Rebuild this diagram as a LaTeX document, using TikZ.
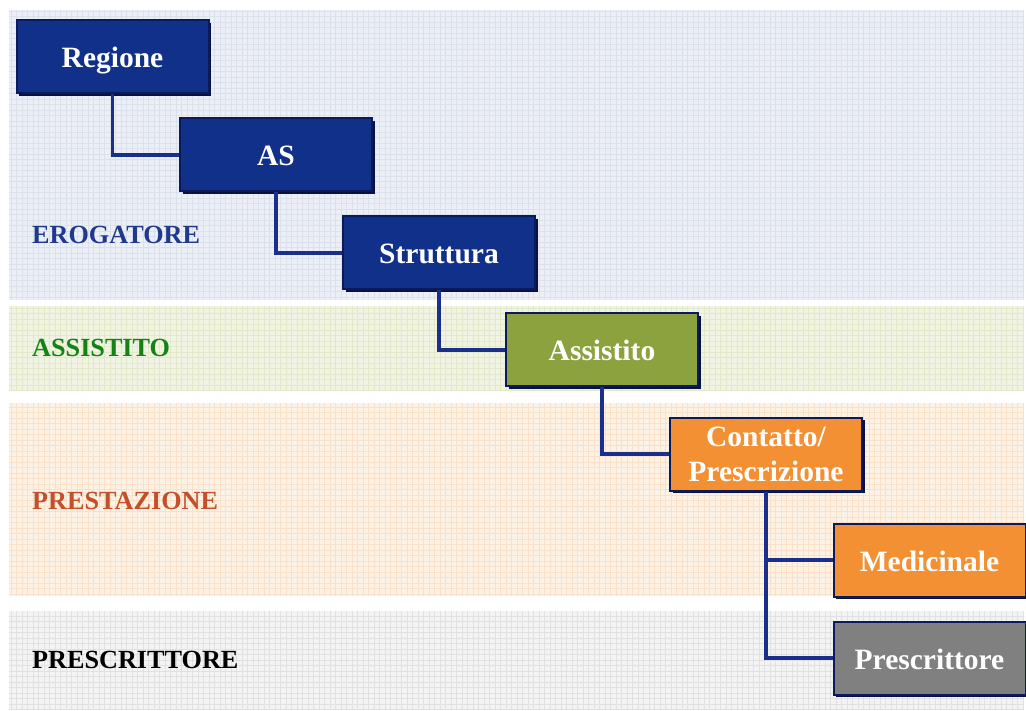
\documentclass[tikz,border=0pt]{standalone}
\usepackage{fontspec}
\setmainfont{Liberation Serif}
\usetikzlibrary{shadows}

\definecolor{navy}{HTML}{10308A}
\definecolor{navyedge}{HTML}{0A1A5C}
\definecolor{connblue}{HTML}{1A2F8A}
\definecolor{olive}{HTML}{8CA23F}
\definecolor{orangebox}{HTML}{F39033}
\definecolor{graybox}{HTML}{808080}
% band fills and their grid lines
\definecolor{bandblue}{HTML}{ECF0F6}
\definecolor{gridblue}{HTML}{DBE1EC}
\definecolor{bandgreen}{HTML}{F1F4E4}
\definecolor{gridgreen}{HTML}{E2E9C8}
\definecolor{bandpeach}{HTML}{FDF2E6}
\definecolor{gridpeach}{HTML}{FAE0C6}
\definecolor{bandgray}{HTML}{F3F3F3}
\definecolor{gridgray}{HTML}{E1E1E1}
\definecolor{lblblue}{HTML}{1F3A8C}
\definecolor{lblgreen}{HTML}{148214}
\definecolor{lblred}{HTML}{C4502B}

\tikzset{
  gridline/.style={line width=0.6pt},
  box/.style={rectangle, draw=navyedge, line width=2pt,
    minimum width=192pt, minimum height=73pt, inner sep=0pt,
    text=white, align=center,
    font=\bfseries\fontsize{29.5}{35}\selectfont,
    drop shadow={shadow xshift=2.5pt, shadow yshift=-2.5pt, opacity=1, fill=navyedge!70!black}},
  oneline/.style={text height=22pt, text depth=0pt},
  bluebox/.style={box, oneline, fill=navy},
  greenbox/.style={box, oneline, fill=olive},
  orangebx/.style={box, fill=orangebox},
  graybx/.style={box, oneline, fill=graybox},
  conn/.style={draw=connblue, line width=3.2pt},
  lbl/.style={anchor=base west, inner sep=0pt, font=\bfseries\fontsize{26.2}{30}\selectfont}
}

\begin{document}
\begin{tikzpicture}[x=1pt, y=-1pt]
  \useasboundingbox[fill=white] (0,0) rectangle (1026,711);

  % background bands with a fine grid
  \foreach \ya/\yb/\col/\gcol in {10/300/bandblue/gridblue, 306/391/bandgreen/gridgreen,
                                  403/596/bandpeach/gridpeach, 611/710/bandgray/gridgray}{
    \fill[\col] (9,\ya) rectangle (1024,\yb);
    \begin{scope}
      \clip (9,\ya) rectangle (1024,\yb);
      \draw[gridline, \gcol] (9,\ya) grid[step=5.5pt] (1024,\yb);
    \end{scope}
  }

  % band labels
  \node[lbl, text=lblblue]  (lerog)  at (32,244) {EROGATORE};
  \node[lbl, text=lblgreen] (lass)   at (32,357) {ASSISTITO};
  \node[lbl, text=lblred]   (lprest) at (32,509) {PRESTAZIONE};
  \node[lbl, text=black]    (lpresc) at (32,668) {PRESCRITTORE};

  % hierarchy boxes
  \node[bluebox]   (reg) at (112.5,57)  {Regione};
  \node[bluebox]   (as)  at (276,155)   {AS};
  \node[bluebox]   (str) at (439,253)   {Struttura};
  \node[greenbox]  (ass) at (602,350)   {Assistito};
  \node[orangebx]  (con) at (766,454)   {Contatto/\\Prescrizione};
  \node[orangebx, oneline] (med) at (929.5,560) {Medicinale};
  \node[graybx]    (pre) at (929.5,658) {Prescrittore};

  % elbow connectors
  \draw[conn] (reg.south) |- (as.west);
  \draw[conn] (as.south)  |- (str.west);
  \draw[conn] (str.south) |- (ass.west);
  \draw[conn] (ass.south) |- (con.west);
  \draw[conn] (con.south) |- (med.west);
  \draw[conn] (con.south) |- (pre.west);
\end{tikzpicture}
\end{document}
